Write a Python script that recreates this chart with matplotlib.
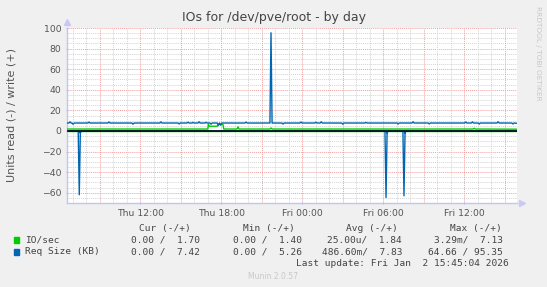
import matplotlib
matplotlib.use("Agg")
import matplotlib.pyplot as plt
import numpy as np

# time axis in hours since Thu 00:00
t_start, t_end = 6.57, 39.9
tick_hours = [12, 18, 24, 30, 36]
tick_labels = ["Thu 12:00", "Thu 18:00", "Fri 00:00", "Fri 06:00", "Fri 12:00"]

# Req Size (KB), write (+): level plus single-sample blips
req_w_base = 7.7
req_w_blip_h = [6.79, 7.02, 8.2, 9.68, 11.46, 13.53, 14.87, 15.53, 15.9, 16.35, 16.87,
                17.24, 17.78, 17.95, 19.83, 21.68, 22.57, 23.9, 25.0, 25.4, 27.0,
                28.72, 31.09, 32.2, 33.4, 36.1, 36.6, 37.1, 38.5, 39.6]
req_w_blip_v = [8.8, 6.5, 8.6, 8.7, 6.6, 8.8, 6.8, 8.5, 8.3, 8.9, 8.4,
                6.6, 5.4, 5.6, 8.6, 95.35, 6.7, 8.6, 8.5, 8.8, 6.5,
                8.3, 6.7, 8.9, 6.8, 8.7, 8.8, 6.7, 8.9, 6.8]
req_w_last = 7.42

# Req Size (KB), read (-): spikes
req_r_blip_h = [7.48, 7.56, 30.2, 30.28, 31.53, 31.61]
req_r_blip_v = [-62, -2, -64.66, -2, -63, -2]

# IO/sec, write (+)
io_w_h = [6.57, 17.0, 17.04, 17.1, 17.72, 17.78, 18.12, 18.18, 19.17, 19.24, 19.31,
          21.6, 21.68, 21.76, 36.64, 36.72, 36.8, 39.9]
io_w_v = [1.85, 1.85, 6.6, 4.6, 4.6, 6.4, 6.4, 1.85, 1.85, 4.0, 1.85,
          1.85, 2.9, 1.85, 1.85, 2.6, 1.85, 1.7]

# IO/sec, read (-)
io_r_h = [t_start, t_end]
io_r_v = [0.0, 0.0]

GREEN = "#00CC00"
BLUE = "#0066B3"


def blip_line(base, hs, vs, w=0.08):
    xs, ys = [t_start], [base]
    for h, v in zip(hs, vs):
        xs += [h - w, h, h + w]
        ys += [base, v, base]
    xs.append(t_end)
    ys.append(base)
    return xs, ys


fig = plt.figure(figsize=(5.47, 2.87), dpi=100, facecolor="#F0F0F0")
ax = fig.add_axes([67 / 547, 1 - 203 / 287, 450 / 547, 175 / 287])
ax.set_facecolor("white")

# grid
for y in np.arange(-70, 101, 5):
    major = (y % 20 == 0)
    ax.axhline(y, color="#F2A0A0" if major else "#D4D4D4", lw=0.7,
               ls=(0, (1, 1)), zorder=1)
for h in np.arange(7, 40, 1):
    major = (h % 3 == 0)
    ax.axvline(h, color="#F2A0A0" if major else "#D4D4D4", lw=0.7,
               ls=(0, (1, 1)), zorder=1)

# read series
ax.plot(io_r_h, io_r_v, color=GREEN, lw=1.0, zorder=2)
xr, yr = blip_line(0.0, req_r_blip_h, req_r_blip_v)
ax.plot(xr, yr, color=BLUE, lw=1.0, zorder=2)

# zero line
ax.axhline(-0.3, color="black", lw=1.1, zorder=3)

# write series
ax.plot(io_w_h, io_w_v, color=GREEN, lw=1.0, zorder=4)
xw, yw = blip_line(req_w_base, req_w_blip_h, req_w_blip_v)
yw[-1] = req_w_last
ax.plot(xw, yw, color=BLUE, lw=1.0, zorder=4)

ax.set_xlim(t_start, t_end)
ax.set_ylim(-70, 100)
ax.set_yticks(range(-60, 101, 20))
ax.set_xticks(tick_hours)
ax.set_xticklabels(tick_labels)
ax.tick_params(labelsize=6.7, labelcolor="#555555", length=2, color="#B0B0E0",
               direction="inout", pad=3)

for s in ["top", "right"]:
    ax.spines[s].set_visible(False)
for s in ["left", "bottom"]:
    ax.spines[s].set_color("#C4C4F0")
    ax.spines[s].set_linewidth(1.0)
ax.plot([0], [1.034], marker="^", ms=5, color="#C8C8F8", transform=ax.transAxes,
        clip_on=False)
ax.plot([1.012], [0], marker=">", ms=5, color="#C8C8F8", transform=ax.transAxes,
        clip_on=False)

ax.set_ylabel("Units read (-) / write (+)", fontsize=8, color="#555555")
ax.yaxis.set_label_coords(-50 / 450, 0.5)

fig.text(273.5 / 547, 1 - 18 / 287, "IOs for /dev/pve/root - by day", ha="center",
         va="center", fontsize=9, color="#444444")
fig.text(538 / 547, 1 - 53 / 287, "RRDTOOL / TOBI OETIKER", rotation=-90,
         ha="center", va="center", fontsize=5.3, color="#C8C8C8")

# legend
mono = dict(family="DejaVu Sans Mono", fontsize=6.8, color="#444444", va="center")


def px(x, y):
    return x / 547, 1 - y / 287


headers = ["Cur (-/+)", "Min (-/+)", "Avg (-/+)", "Max (-/+)"]
header_x = [191, 295, 398, 502]
value_x = [200, 302, 402, 503]
rows = [("IO/sec", GREEN, ["0.00 /  1.70", "0.00 /  1.40", "25.00u/  1.84", "3.29m/  7.13"]),
        ("Req Size (KB)", BLUE, ["0.00 /  7.42", "0.00 /  5.26", "486.60m/  7.83", "64.66 / 95.35"])]

for hx, htxt in zip(header_x, headers):
    fig.text(*px(hx, 228.3), htxt, ha="right", **mono)
for i, (name, col, vals) in enumerate(rows):
    y = 239.7 + 12 * i
    fig.patches.append(plt.Rectangle(px(14, y + 3), 5 / 547, 6 / 287, color=col,
                                     transform=fig.transFigure, figure=fig))
    fig.text(*px(25, y), name, ha="left", **mono)
    for vx, v in zip(value_x, vals):
        fig.text(*px(vx, y), v, ha="right", **mono)
fig.text(*px(509, 263.7), "Last update: Fri Jan  2 15:45:04 2026", ha="right", **mono)
fig.text(*px(273.5, 276.3), "Munin 2.0.57", ha="center", va="center", fontsize=5.5,
         color="#C8C8C8")

fig.savefig("out.png", dpi=100, facecolor=fig.get_facecolor())
